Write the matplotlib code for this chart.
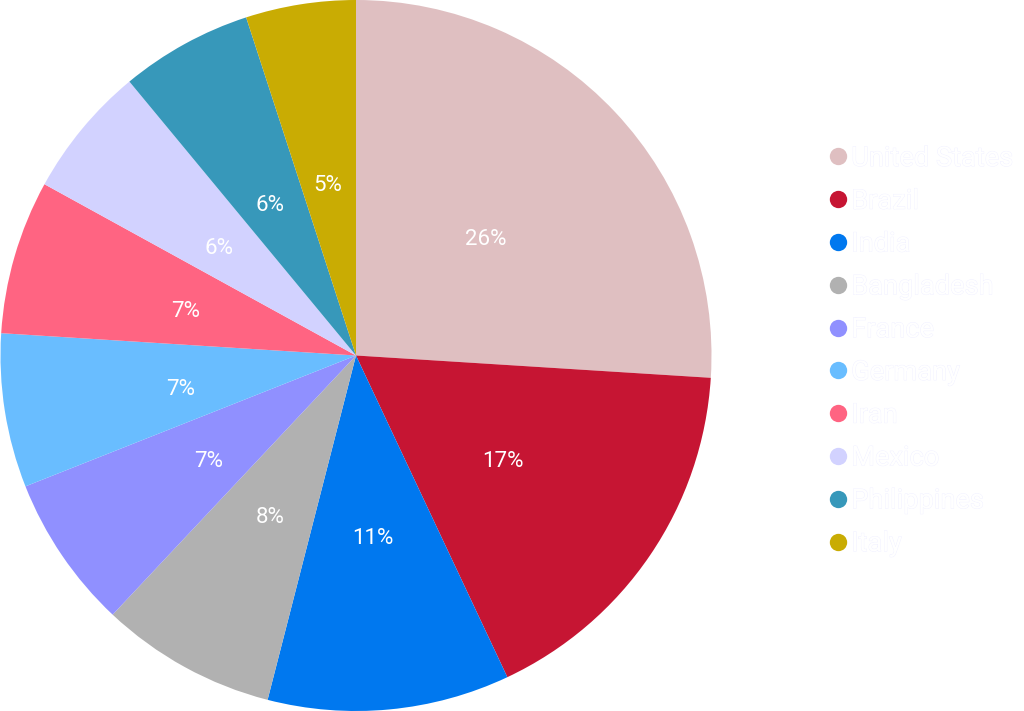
import matplotlib.pyplot as plt
import matplotlib.patheffects as pe
from matplotlib.lines import Line2D
from matplotlib.transforms import ScaledTranslation

countries = ['United States', 'Brazil', 'India', 'Bangladesh', 'France',
             'Germany', 'Iran', 'Mexico', 'Philippines', 'Italy']
shares = [26, 17, 11, 8, 7, 7, 7, 6, 6, 5]
colors = ['#dfbfc1', '#c61533', '#0078ef', '#b1b1b1', '#9090ff',
          '#69bdff', '#ff6482', '#d2d2ff', '#3798ba', '#c9ac03']

plt.rcParams['font.family'] = ['Roboto', 'DejaVu Sans']

W, H = 1024, 711
fig = plt.figure(figsize=(W / 100, H / 100), dpi=100, facecolor='white')
# pie centre (356, 355.5), radius 355.5 px
ax = fig.add_axes([0.5 / W, 0, 711 / W, 1])

wedges, texts, autotexts = ax.pie(
    shares, colors=colors, startangle=90, counterclock=False, radius=1,
    autopct='%d%%', pctdistance=0.5, frame=True,
    textprops={'color': 'white', 'fontsize': 16},
)
ax.set_xlim(-1, 1)
ax.set_ylim(-1, 1)
ax.set_aspect('auto')
ax.axis('off')

# percent labels sit a little below the wedge mid point
shift = ScaledTranslation(0, -6 / 100, fig.dpi_scale_trans)
for t in autotexts:
    t.set_transform(t.get_transform() + shift)

handles = [Line2D([], [], linestyle='none', marker='o', markersize=12.5,
                  markerfacecolor=c, markeredgecolor='none') for c in colors]
leg = fig.legend(handles, countries, loc='upper left',
                 bbox_to_anchor=(824 / W, 1 - 145 / H), bbox_transform=fig.transFigure,
                 frameon=False, fontsize=19.6, labelspacing=0.58, handletextpad=0.0,
                 handlelength=1.0, borderpad=0, borderaxespad=0)
for t in leg.get_texts():
    t.set_color('white')
    t.set_path_effects([pe.withStroke(linewidth=0.6, foreground='#f0f0ff')])

fig.savefig('out.png', dpi=100, facecolor='white')
